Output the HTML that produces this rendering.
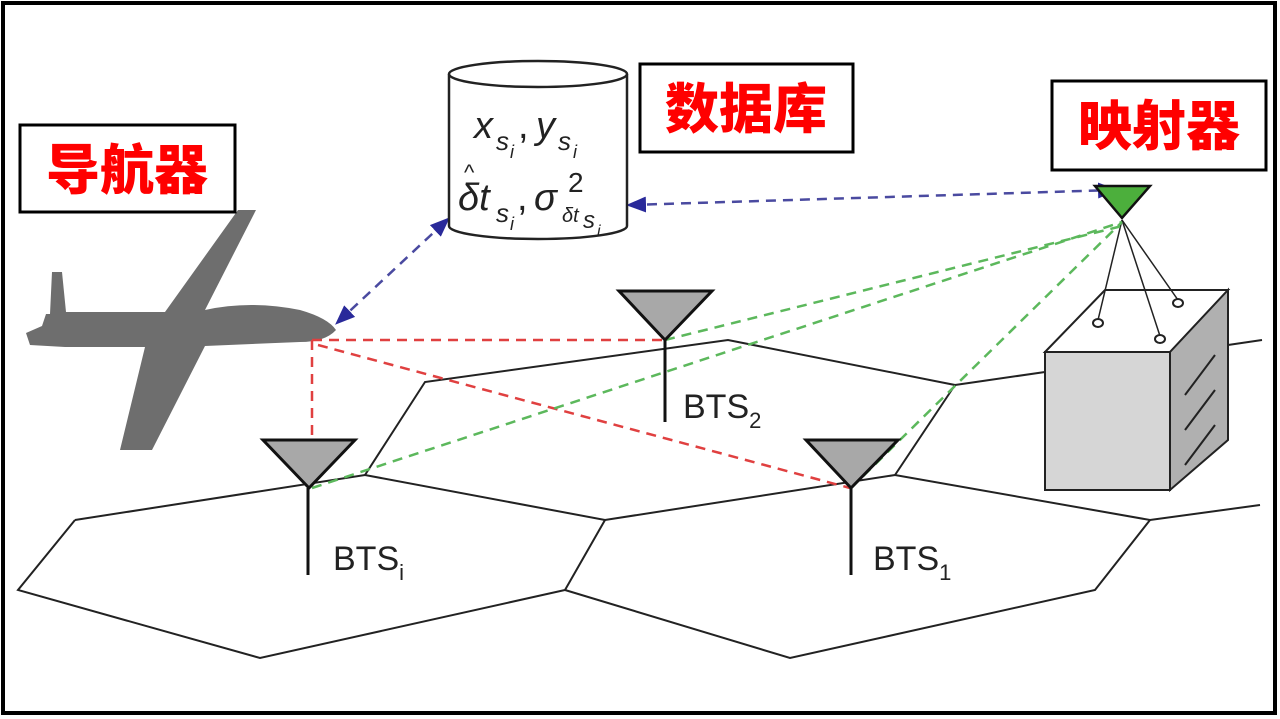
<!DOCTYPE html>
<html><head><meta charset="utf-8"><style>
body{margin:0;background:#fff}
svg{display:block}
.lbl{font-family:"Liberation Sans","Noto Sans CJK SC",sans-serif;font-weight:900;fill:#f00;font-size:54px}
.t{font-family:"Liberation Sans",sans-serif;fill:#222}
</style></head><body>
<svg width="1280" height="719" viewBox="0 0 1280 719">
<rect x="0" y="0" width="1280" height="719" fill="#fff"/>
<rect x="3" y="3" width="1272" height="710" fill="none" stroke="#000" stroke-width="4"/>
<defs>
<marker id="ab" markerWidth="20" markerHeight="20" refX="16" refY="8" orient="auto-start-reverse" markerUnits="userSpaceOnUse" viewBox="0 0 20 16"><path d="M0,0 L20,8 L0,16z" fill="#2a2a9a"/></marker>
</defs>
<g fill="none" stroke="#222" stroke-width="2">
<polyline points="75,520 365,475 605,520 895,475 1150,520 1260,505"/>
<polyline points="75,520 18,590 260,658 565,590 605,520"/>
<polyline points="565,590 790,658 1095,590 1150,520"/>
<polyline points="365,475 425,382 728,340 955,385 895,475"/>
<polyline points="955,385 1045,372"/>
<polyline points="1228,345 1262,340"/>
</g>
<g stroke="#222" stroke-width="2">
<polygon points="1045,352 1105,290 1228,290 1170,352" fill="#fff"/>
<polygon points="1170,352 1228,290 1228,440 1170,490" fill="#b0b0b0"/>
<rect x="1045" y="352" width="125" height="138" fill="#d6d6d6"/>
<line x1="1185" y1="395" x2="1215" y2="355"/>
<line x1="1185" y1="430" x2="1215" y2="390"/>
<line x1="1185" y1="465" x2="1215" y2="425"/>
<line x1="1122" y1="220" x2="1098" y2="320" stroke-width="1.5"/>
<line x1="1122" y1="220" x2="1160" y2="336" stroke-width="1.5"/>
<line x1="1122" y1="220" x2="1178" y2="300" stroke-width="1.5"/>
<ellipse cx="1098" cy="323" rx="5" ry="4" fill="#fff"/>
<ellipse cx="1160" cy="339" rx="5" ry="4" fill="#fff"/>
<ellipse cx="1178" cy="303" rx="5" ry="4" fill="#fff"/>
</g>
<path d="M52,272 L62,272 L66,312 L165,312 L238,210 L256,210 L205,310 Q250,300 300,310 Q328,318 336,330 Q325,342 300,342 L205,346 L152,450 L120,450 L145,347 L65,347 L30,345 L26,333 L42,326 L46,314 L50,314z" fill="#6e6e6e"/>
<g fill="none" stroke-width="2.5" stroke-dasharray="10,7">
<g stroke="#e04040">
<line x1="312" y1="340" x2="312" y2="488"/>
<line x1="312" y1="340" x2="665" y2="340"/>
<line x1="318" y1="345" x2="850" y2="488"/>
</g>
<g stroke="#5cb85c">
<line x1="312" y1="488" x2="1122" y2="222"/>
<line x1="665" y1="340" x2="1122" y2="226"/>
<line x1="851" y1="488" x2="1122" y2="222"/>
</g>
<g stroke="#4a4aa0">
<line x1="338" y1="322" x2="447" y2="220" marker-start="url(#ab)" marker-end="url(#ab)"/>
<line x1="630" y1="205" x2="1114" y2="190" marker-start="url(#ab)" marker-end="url(#ab)"/>
</g>
</g>
<g stroke="#111" stroke-width="3">
<line x1="308" y1="488" x2="308" y2="575"/>
<polygon points="263,440 355,440 309,488" fill="#a8a8a8"/>
<line x1="665" y1="340" x2="665" y2="422"/>
<polygon points="619,291 712,291 665,340" fill="#a8a8a8"/>
<line x1="851" y1="488" x2="851" y2="575"/>
<polygon points="806,440 898,440 851,488" fill="#a8a8a8"/>
<polygon points="1095,186 1150,186 1122,218" fill="#4caf3c" stroke-width="2.5"/>
</g>
<text class="t" x="333" y="570" font-size="34">BTS<tspan font-size="22" dy="10">i</tspan></text>
<text class="t" x="683" y="418" font-size="34">BTS<tspan font-size="22" dy="10">2</tspan></text>
<text class="t" x="873" y="570" font-size="34">BTS<tspan font-size="22" dy="10">1</tspan></text>
<path d="M449,74 L449,226 A89,13 0 0 0 627,226 L627,74" fill="#fff" stroke="#222" stroke-width="2.5"/>
<ellipse cx="538" cy="74" rx="89" ry="13" fill="#fff" stroke="#222" stroke-width="2.5"/>
<text class="t" x="474" y="138" font-size="38" font-style="italic">x</text>
<text class="t" x="496" y="150" font-size="26" font-style="italic">s</text>
<text class="t" x="510" y="158" font-size="18" font-style="italic">i</text>
<text class="t" x="518" y="138" font-size="38">,</text>
<text class="t" x="536" y="138" font-size="38" font-style="italic">y</text>
<text class="t" x="558" y="150" font-size="26" font-style="italic">s</text>
<text class="t" x="573" y="158" font-size="18" font-style="italic">i</text>
<text class="t" x="464" y="180" font-size="22">^</text>
<text class="t" x="458" y="210" font-size="38" font-style="italic">δt</text>
<text class="t" x="496" y="222" font-size="26" font-style="italic">s</text>
<text class="t" x="510" y="230" font-size="18" font-style="italic">i</text>
<text class="t" x="517" y="210" font-size="38">,</text>
<text class="t" x="534" y="210" font-size="38" font-style="italic">σ</text>
<text class="t" x="568" y="192" font-size="28">2</text>
<text class="t" x="562" y="222" font-size="20" font-style="italic">δt</text>
<text class="t" x="583" y="228" font-size="24" font-style="italic">s</text>
<text class="t" x="597" y="236" font-size="16" font-style="italic">i</text>
<rect x="20" y="125" width="215" height="87" fill="#fff" stroke="#000" stroke-width="3"/>
<text class="lbl" x="127" y="189" text-anchor="middle">导航器</text>
<rect x="640" y="64" width="213" height="88" fill="#fff" stroke="#000" stroke-width="3"/>
<text class="lbl" x="746" y="128" text-anchor="middle">数据库</text>
<rect x="1052" y="81" width="214" height="89" fill="#fff" stroke="#000" stroke-width="3"/>
<text class="lbl" x="1159" y="145" text-anchor="middle">映射器</text>
</svg>
</body></html>
